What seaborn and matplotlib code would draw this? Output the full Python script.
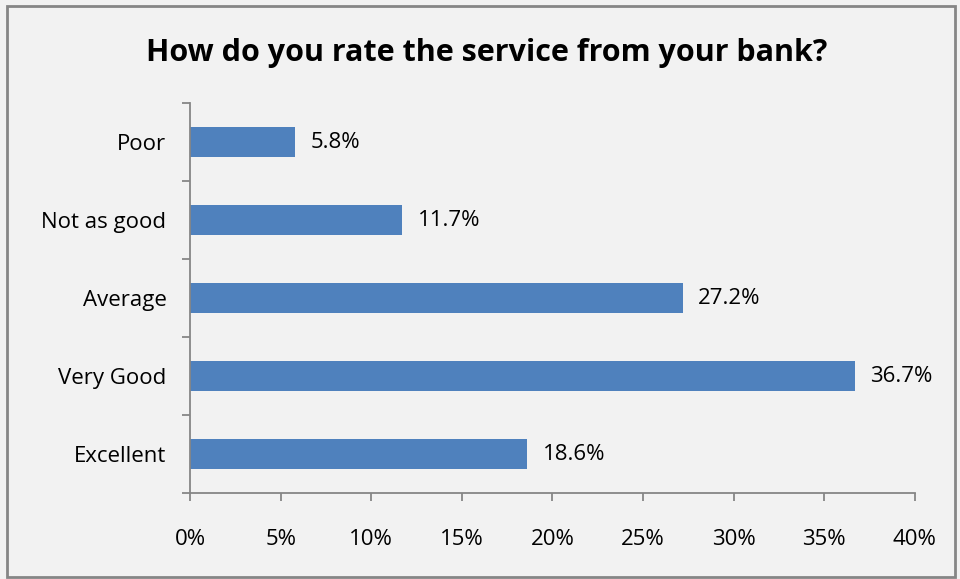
import matplotlib
matplotlib.use("Agg")
import matplotlib.pyplot as plt
import seaborn as sns
import pandas as pd
from matplotlib.ticker import FuncFormatter, FixedLocator
from matplotlib.patches import Rectangle

categories = ["Poor", "Not as good", "Average", "Very Good", "Excellent"]
values = [5.8, 11.7, 27.2, 36.7, 18.6]
xticks = [0, 5, 10, 15, 20, 25, 30, 35, 40]
title = "How do you rate the service from your bank?"

sns.set_style("white")
plt.rcParams['font.family'] = ['Open Sans', 'DejaVu Sans']
plt.rcParams['text.color'] = 'black'
plt.rcParams['xtick.color'] = '#868686'
plt.rcParams['ytick.color'] = '#868686'
plt.rcParams['xtick.labelcolor'] = 'black'
plt.rcParams['ytick.labelcolor'] = 'black'

df = pd.DataFrame({"category": categories, "value": values})

fig = plt.figure(figsize=(9.6, 5.79), dpi=100, facecolor="#f2f2f2")
ax = fig.add_axes([0.198, 0.1485, 0.755, 0.6735])
ax.set_facecolor("#f2f2f2")

sns.barplot(data=df, x="value", y="category", orient="h", color="#4f81bd",
            saturation=1, width=0.39, ax=ax, order=categories, linewidth=0)

for p, v in zip(ax.patches, values):
    ax.text(p.get_width() + 0.85, p.get_y() + p.get_height() / 2, f"{v:.1f}%",
            va="center", ha="left", fontsize=16, color="black")

ax.set_xlim(0, 40)
ax.set_ylim(len(categories) - 0.5, -0.5)
ax.set_xticks(xticks)
ax.xaxis.set_major_formatter(FuncFormatter(lambda x, _: f"{int(x)}%"))
ax.set_xlabel("")
ax.set_ylabel("")

ax.yaxis.set_major_locator(FixedLocator(range(len(categories))))
ax.set_yticklabels(categories)
ax.yaxis.set_minor_locator(FixedLocator([i - 0.5 for i in range(len(categories) + 1)]))
ax.tick_params(axis="y", which="major", length=0, pad=17, labelsize=16)
ax.tick_params(axis="y", which="minor", length=6, width=1.3, left=True, direction="out")
ax.tick_params(axis="x", which="major", length=6, width=1.3, pad=20, labelsize=16,
               bottom=True, direction="out")

for s in ["top", "right"]:
    ax.spines[s].set_visible(False)
for s in ["left", "bottom"]:
    ax.spines[s].set_color("#868686")
    ax.spines[s].set_linewidth(1.3)

fig.text(0.507, 0.908, title, ha="center", va="center", fontsize=22, fontweight="bold",
         color="black")

fig.patches.append(Rectangle((0.007, 0.004), 0.988, 0.986, transform=fig.transFigure,
                             fill=False, edgecolor="#868686", linewidth=2))

fig.savefig("out.png", dpi=100, facecolor=fig.get_facecolor())
